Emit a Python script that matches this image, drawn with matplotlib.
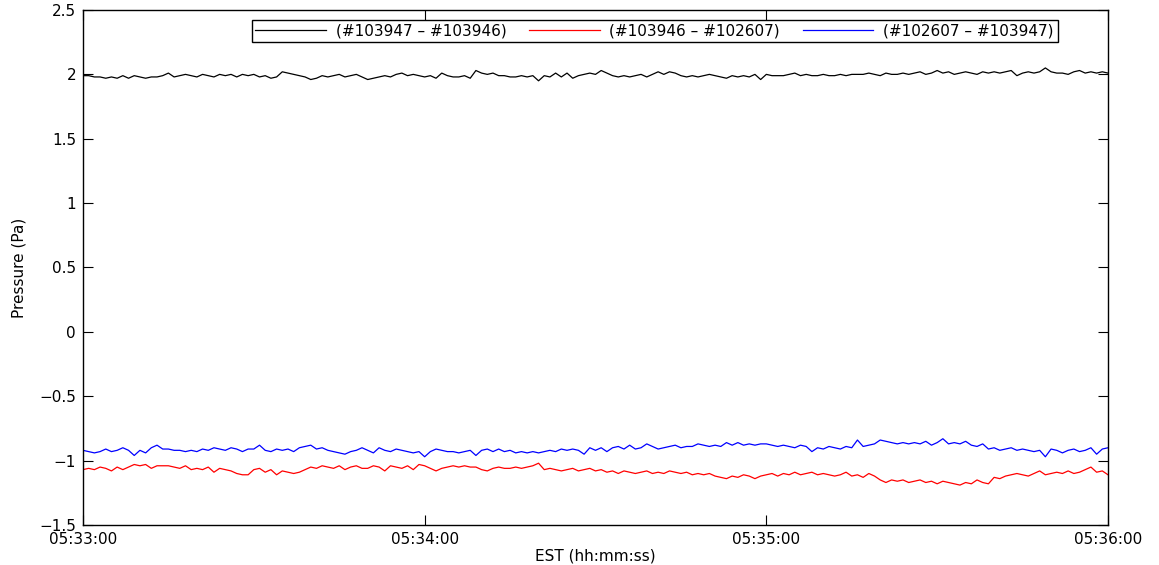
import numpy as np
import matplotlib.pyplot as plt

plt.rcParams['font.family'] = ['DejaVu Sans']

# segundos desde 05:33:00 (uma amostra por segundo)
tempo = np.arange(181)

# diferenca de pressao entre pares de sensores (Pa)
par_a = [1.99, 1.99, 1.98, 1.98, 1.97, 1.98, 1.97, 1.99, 1.97, 1.99,
         1.98, 1.97, 1.98, 1.98, 1.99, 2.01, 1.98, 1.99, 2.00, 1.99,
         1.98, 2.00, 1.99, 1.98, 2.00, 1.99, 2.00, 1.98, 2.00, 1.99,
         2.00, 1.98, 1.99, 1.97, 1.98, 2.02, 2.01, 2.00, 1.99, 1.98,
         1.96, 1.97, 1.99, 1.98, 1.99, 2.00, 1.98, 1.99, 2.00, 1.98,
         1.96, 1.97, 1.98, 1.99, 1.98, 2.00, 2.01, 1.99, 2.00, 1.99,
         1.98, 1.99, 1.97, 2.01, 1.99, 1.98, 1.98, 1.99, 1.97, 2.03,
         2.01, 2.00, 2.01, 1.99, 1.99, 1.98, 1.98, 1.99, 1.98, 1.99,
         1.95, 1.99, 1.98, 2.01, 1.98, 2.01, 1.97, 1.99, 2.00, 2.01,
         2.00, 2.03, 2.01, 1.99, 1.98, 1.99, 1.98, 1.99, 2.00, 1.98,
         2.00, 2.02, 2.00, 2.02, 2.01, 1.99, 1.98, 1.99, 1.98, 1.99,
         2.00, 1.99, 1.98, 1.97, 1.99, 1.98, 1.99, 1.98, 2.00, 1.96,
         2.00, 1.99, 1.99, 1.99, 2.00, 2.01, 1.99, 2.00, 1.99, 1.99,
         2.00, 1.99, 1.99, 2.00, 1.99, 2.00, 2.00, 2.00, 2.01, 2.00,
         1.99, 2.01, 2.00, 2.00, 2.01, 2.00, 2.01, 2.02, 2.00, 2.01,
         2.03, 2.01, 2.02, 2.00, 2.01, 2.02, 2.01, 2.00, 2.02, 2.01,
         2.02, 2.01, 2.02, 2.03, 1.99, 2.01, 2.02, 2.01, 2.02, 2.05,
         2.02, 2.01, 2.01, 2.00, 2.02, 2.03, 2.01, 2.02, 2.01, 2.02,
         2.01]

par_b = [-1.07, -1.06, -1.07, -1.05, -1.06, -1.08, -1.05, -1.07, -1.05, -1.03,
         -1.04, -1.03, -1.06, -1.04, -1.04, -1.04, -1.05, -1.06, -1.04, -1.07,
         -1.06, -1.07, -1.05, -1.09, -1.06, -1.07, -1.08, -1.10, -1.11, -1.11,
         -1.07, -1.06, -1.09, -1.07, -1.11, -1.08, -1.09, -1.10, -1.09, -1.07,
         -1.05, -1.06, -1.04, -1.05, -1.06, -1.04, -1.07, -1.05, -1.04, -1.06,
         -1.06, -1.04, -1.05, -1.08, -1.04, -1.05, -1.06, -1.04, -1.07, -1.03,
         -1.04, -1.06, -1.08, -1.06, -1.05, -1.04, -1.05, -1.04, -1.05, -1.05,
         -1.07, -1.08, -1.06, -1.05, -1.06, -1.06, -1.05, -1.06, -1.05, -1.04,
         -1.02, -1.07, -1.06, -1.07, -1.08, -1.07, -1.06, -1.08, -1.07, -1.06,
         -1.08, -1.07, -1.09, -1.08, -1.10, -1.08, -1.09, -1.10, -1.09, -1.08,
         -1.10, -1.09, -1.10, -1.08, -1.09, -1.10, -1.09, -1.11, -1.10, -1.11,
         -1.10, -1.12, -1.13, -1.14, -1.12, -1.13, -1.11, -1.12, -1.14, -1.12,
         -1.11, -1.10, -1.12, -1.10, -1.11, -1.09, -1.11, -1.10, -1.09, -1.11,
         -1.10, -1.11, -1.12, -1.11, -1.09, -1.12, -1.11, -1.13, -1.10, -1.12,
         -1.15, -1.17, -1.15, -1.16, -1.15, -1.17, -1.16, -1.15, -1.17, -1.16,
         -1.18, -1.16, -1.17, -1.18, -1.19, -1.17, -1.18, -1.15, -1.17, -1.18,
         -1.13, -1.14, -1.12, -1.11, -1.10, -1.11, -1.12, -1.10, -1.08, -1.11,
         -1.10, -1.09, -1.10, -1.08, -1.10, -1.09, -1.07, -1.05, -1.09, -1.08,
         -1.11]

par_c = [-0.92, -0.93, -0.94, -0.93, -0.91, -0.93, -0.92, -0.90, -0.92, -0.96,
         -0.92, -0.94, -0.90, -0.88, -0.91, -0.91, -0.92, -0.92, -0.93, -0.92,
         -0.93, -0.91, -0.92, -0.90, -0.91, -0.92, -0.90, -0.91, -0.93, -0.91,
         -0.91, -0.88, -0.92, -0.93, -0.91, -0.92, -0.91, -0.93, -0.90, -0.89,
         -0.88, -0.91, -0.90, -0.92, -0.93, -0.94, -0.95, -0.93, -0.92, -0.90,
         -0.92, -0.94, -0.90, -0.92, -0.93, -0.91, -0.92, -0.93, -0.94, -0.93,
         -0.97, -0.93, -0.91, -0.92, -0.93, -0.93, -0.94, -0.93, -0.92, -0.96,
         -0.92, -0.91, -0.93, -0.91, -0.93, -0.92, -0.94, -0.93, -0.94, -0.93,
         -0.94, -0.93, -0.92, -0.93, -0.91, -0.92, -0.91, -0.92, -0.95, -0.90,
         -0.92, -0.90, -0.93, -0.90, -0.89, -0.91, -0.88, -0.91, -0.90, -0.87,
         -0.89, -0.91, -0.90, -0.89, -0.88, -0.90, -0.89, -0.89, -0.87, -0.88,
         -0.89, -0.88, -0.89, -0.86, -0.88, -0.86, -0.88, -0.87, -0.88, -0.87,
         -0.87, -0.88, -0.89, -0.88, -0.89, -0.90, -0.88, -0.89, -0.93, -0.90,
         -0.91, -0.89, -0.90, -0.91, -0.89, -0.90, -0.84, -0.89, -0.88, -0.87,
         -0.84, -0.85, -0.86, -0.87, -0.86, -0.87, -0.86, -0.87, -0.85, -0.88,
         -0.86, -0.83, -0.87, -0.86, -0.87, -0.85, -0.88, -0.89, -0.87, -0.91,
         -0.90, -0.92, -0.91, -0.90, -0.92, -0.91, -0.92, -0.93, -0.92, -0.97,
         -0.91, -0.92, -0.94, -0.92, -0.91, -0.93, -0.92, -0.90, -0.95, -0.91,
         -0.90]

rotulos = ['(#103947 \u2013 #103946)', '(#103946 \u2013 #102607)', '(#102607 \u2013 #103947)']
cores = ['black', 'red', 'blue']

ticks_x = [0, 60, 120, 180]
rotulos_x = ['05:33:00', '05:34:00', '05:35:00', '05:36:00']
ticks_y = [-1.5, -1, -0.5, 0, 0.5, 1, 1.5, 2, 2.5]

fig = plt.figure(figsize=(11.59, 5.65), dpi=100)
ax = fig.add_axes([0.0716, 0.0708, 0.8844, 0.9115])

for serie, cor, rot in zip([par_a, par_b, par_c], cores, rotulos):
    ax.plot(tempo, serie, color=cor, lw=0.9, label=rot)

ax.set_xlim(0, 180)
ax.set_ylim(-1.5, 2.5)
ax.set_xticks(ticks_x)
ax.set_xticklabels(rotulos_x)
ax.set_yticks(ticks_y)
ax.set_yticklabels([('\u2212' if v < 0 else '') + ('%g' % abs(v)) for v in ticks_y])
ax.tick_params(direction='in', length=7.5, width=0.8, top=True, right=True,
               labelsize=11)
ax.tick_params(axis='x', pad=5)
ax.tick_params(axis='y', pad=5)
for s in ax.spines.values():
    s.set_linewidth(1.0)

ax.set_xlabel('EST (hh:mm:ss)', fontsize=11, labelpad=1)
ax.set_ylabel('Pressure (Pa)', fontsize=11, labelpad=9)

leg = ax.legend(loc='upper center', bbox_to_anchor=(0.5576, 0.981), ncol=3,
                fontsize=11, handlelength=4.6, columnspacing=1.5,
                borderaxespad=0, fancybox=False, framealpha=1,
                borderpad=0.25, handletextpad=0.65)
leg.get_frame().set_edgecolor('black')
leg.get_frame().set_linewidth(1.0)

plt.savefig('out.png', dpi=100)
